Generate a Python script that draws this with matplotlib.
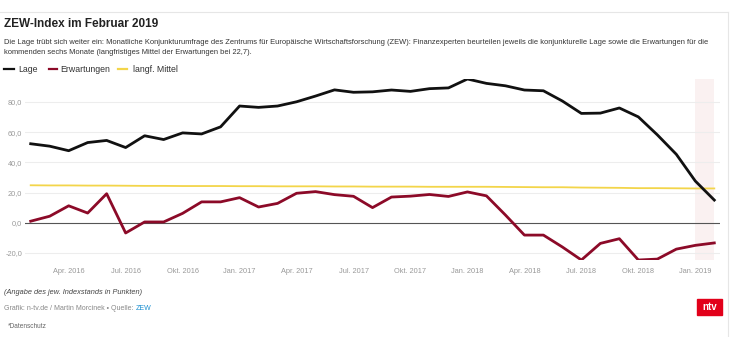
import matplotlib
matplotlib.use("Agg")
import matplotlib.pyplot as plt
from matplotlib.patches import Rectangle
from matplotlib.lines import Line2D

plt.rcParams['font.family'] = ['Liberation Sans', 'DejaVu Sans']

# Monate Feb. 2016 bis Feb. 2019
months = ["Feb. 2016", "Mär. 2016", "Apr. 2016", "Mai 2016", "Jun. 2016", "Jul. 2016",
          "Aug. 2016", "Sep. 2016", "Okt. 2016", "Nov. 2016", "Dez. 2016",
          "Jan. 2017", "Feb. 2017", "Mär. 2017", "Apr. 2017", "Mai 2017", "Jun. 2017",
          "Jul. 2017", "Aug. 2017", "Sep. 2017", "Okt. 2017", "Nov. 2017", "Dez. 2017",
          "Jan. 2018", "Feb. 2018", "Mär. 2018", "Apr. 2018", "Mai 2018", "Jun. 2018",
          "Jul. 2018", "Aug. 2018", "Sep. 2018", "Okt. 2018", "Nov. 2018", "Dez. 2018",
          "Jan. 2019", "Feb. 2019"]

lage = [52.3, 50.7, 47.7, 53.1, 54.5, 49.8, 57.6, 55.1, 59.5, 58.8, 63.5,
        77.3, 76.4, 77.3, 80.1, 83.9, 88.0, 86.4, 86.7, 87.9, 87.0, 88.8, 89.3,
        95.2, 92.3, 90.7, 87.9, 87.4, 80.6, 72.4, 72.6, 76.0, 70.1, 58.2, 45.3,
        27.6, 15.0]

erwartungen = [1.0, 4.3, 11.2, 6.4, 19.2, -6.8, 0.5, 0.5, 6.2, 13.8, 13.8,
               16.6, 10.4, 12.8, 19.5, 20.6, 18.6, 17.5, 10.0, 17.0, 17.6, 18.7, 17.4,
               20.4, 17.8, 5.1, -8.2, -8.2, -16.1, -24.7, -13.7, -10.6, -24.7, -24.1, -17.5,
               -15.0, -13.4]

mittel = [24.8, 24.7, 24.7, 24.6, 24.6, 24.5, 24.4, 24.4, 24.3, 24.3, 24.3,
          24.2, 24.2, 24.1, 24.1, 24.1, 24.0, 24.0, 23.9, 23.9, 23.9, 23.8, 23.8,
          23.8, 23.8, 23.7, 23.6, 23.5, 23.5, 23.3, 23.2, 23.1, 22.9, 22.9, 22.8,
          22.7, 22.7]

tick_labels = ["Apr. 2016", "Jul. 2016", "Okt. 2016", "Jan. 2017", "Apr. 2017",
               "Jul. 2017", "Okt. 2017", "Jan. 2018", "Apr. 2018", "Jul. 2018",
               "Okt. 2018", "Jan. 2019"]
y_ticks = [-20, 0, 20, 40, 60, 80]

col_lage = "#111111"
col_erw = "#8c0a28"
col_mittel = "#f3d54a"

W, H = 740, 337
fig = plt.figure(figsize=(W / 100, H / 100), dpi=100)
ax = fig.add_axes([25 / W, 1 - 260 / H, (720 - 25) / W, (260 - 79) / H])

x = list(range(len(months)))
tick_pos = [months.index(t) for t in tick_labels]

# hervorgehobener letzter Monat
ax.axvspan(months.index("Jan. 2019"), months.index("Feb. 2019"), color="#faf1f1", lw=0, zorder=0)

for v in y_ticks:
    if v == 0:
        ax.axhline(v, color="#555555", lw=0.8, zorder=1)
    else:
        ax.axhline(v, color="#ededed", lw=0.8, zorder=1)

ax.plot(x, mittel, color=col_mittel, lw=1.3, zorder=2)
ax.plot(x, erwartungen, color=col_erw, lw=2.0, zorder=3, solid_joinstyle="round")
ax.plot(x, lage, color=col_lage, lw=2.0, zorder=4, solid_joinstyle="round")

ax.set_xlim(-0.3, 36.3)
ax.set_ylim(-24.7, 95.2)
ax.set_xticks(tick_pos)
ax.set_xticklabels(tick_labels)
ax.set_yticks(y_ticks)
ax.set_yticklabels([("%.1f" % v).replace(".", ",") for v in y_ticks])
ax.tick_params(axis="both", length=0, labelsize=5.3, labelcolor="#999999")
ax.tick_params(axis="x", pad=6)
ax.tick_params(axis="y", pad=2)
for s in ax.spines.values():
    s.set_visible(False)

# Rahmen
fig.add_artist(Line2D([0, 728 / W], [1 - 12 / H, 1 - 12 / H], color="#e6e6e6", lw=0.8))
fig.add_artist(Line2D([728 / W, 728 / W], [0, 1 - 12 / H], color="#e6e6e6", lw=0.8))

fig.text(4 / W, 1 - 24 / H, "ZEW-Index im Februar 2019", fontsize=8.5, fontweight="bold",
         color="#222222", va="center")
fig.text(4 / W, 1 - 42 / H,
         "Die Lage trübt sich weiter ein: Monatliche Konjunkturumfrage des Zentrums für Europäische "
         "Wirtschaftsforschung (ZEW): Finanzexperten beurteilen jeweils die konjunkturelle Lage sowie "
         "die Erwartungen für die", fontsize=5.4, color="#333333", va="center")
fig.text(4 / W, 1 - 53 / H,
         "kommenden sechs Monate (langfristiges Mittel der Erwartungen bei 22,7).",
         fontsize=5.4, color="#333333", va="center")

# Legende
leg_y = 1 - 69 / H
for (x0, x1, tx, label, c) in [(4, 14, 18, "Lage", col_lage),
                               (49, 57, 60, "Erwartungen", col_erw),
                               (118, 127, 133, "langf. Mittel", col_mittel)]:
    fig.add_artist(Line2D([x0 / W, x1 / W], [leg_y, leg_y], color=c, lw=1.6))
    fig.text(tx / W, leg_y, label, fontsize=6.3, color="#333333", va="center")

fig.text(4 / W, 1 - 293 / H, "(Angabe des jew. Indexstands in Punkten)", fontsize=5.3,
         style="italic", color="#444444", va="center")
t = fig.text(4 / W, 1 - 309 / H, "Grafik: n-tv.de / Martin Morcinek • Quelle: ", fontsize=5.0,
             color="#888888", va="center")
fig.canvas.draw()
bb = t.get_window_extent()
fig.text(bb.x1 / W, 1 - 309 / H, "ZEW", fontsize=5.0, color="#1b8fd0", va="center")
fig.text(8 / W, 1 - 327 / H, "*Datenschutz", fontsize=4.7, color="#666666", va="center")

# ntv-Logo
fig.add_artist(Rectangle((697 / W, 1 - 315 / H), 25 / W, 16 / H, color="#e2001a",
                         transform=fig.transFigure))
fig.text(709.5 / W, 1 - 307.5 / H, "ntv", fontsize=7, fontweight="bold", color="white",
         ha="center", va="center")

fig.savefig("out.png", dpi=100, facecolor="white")
